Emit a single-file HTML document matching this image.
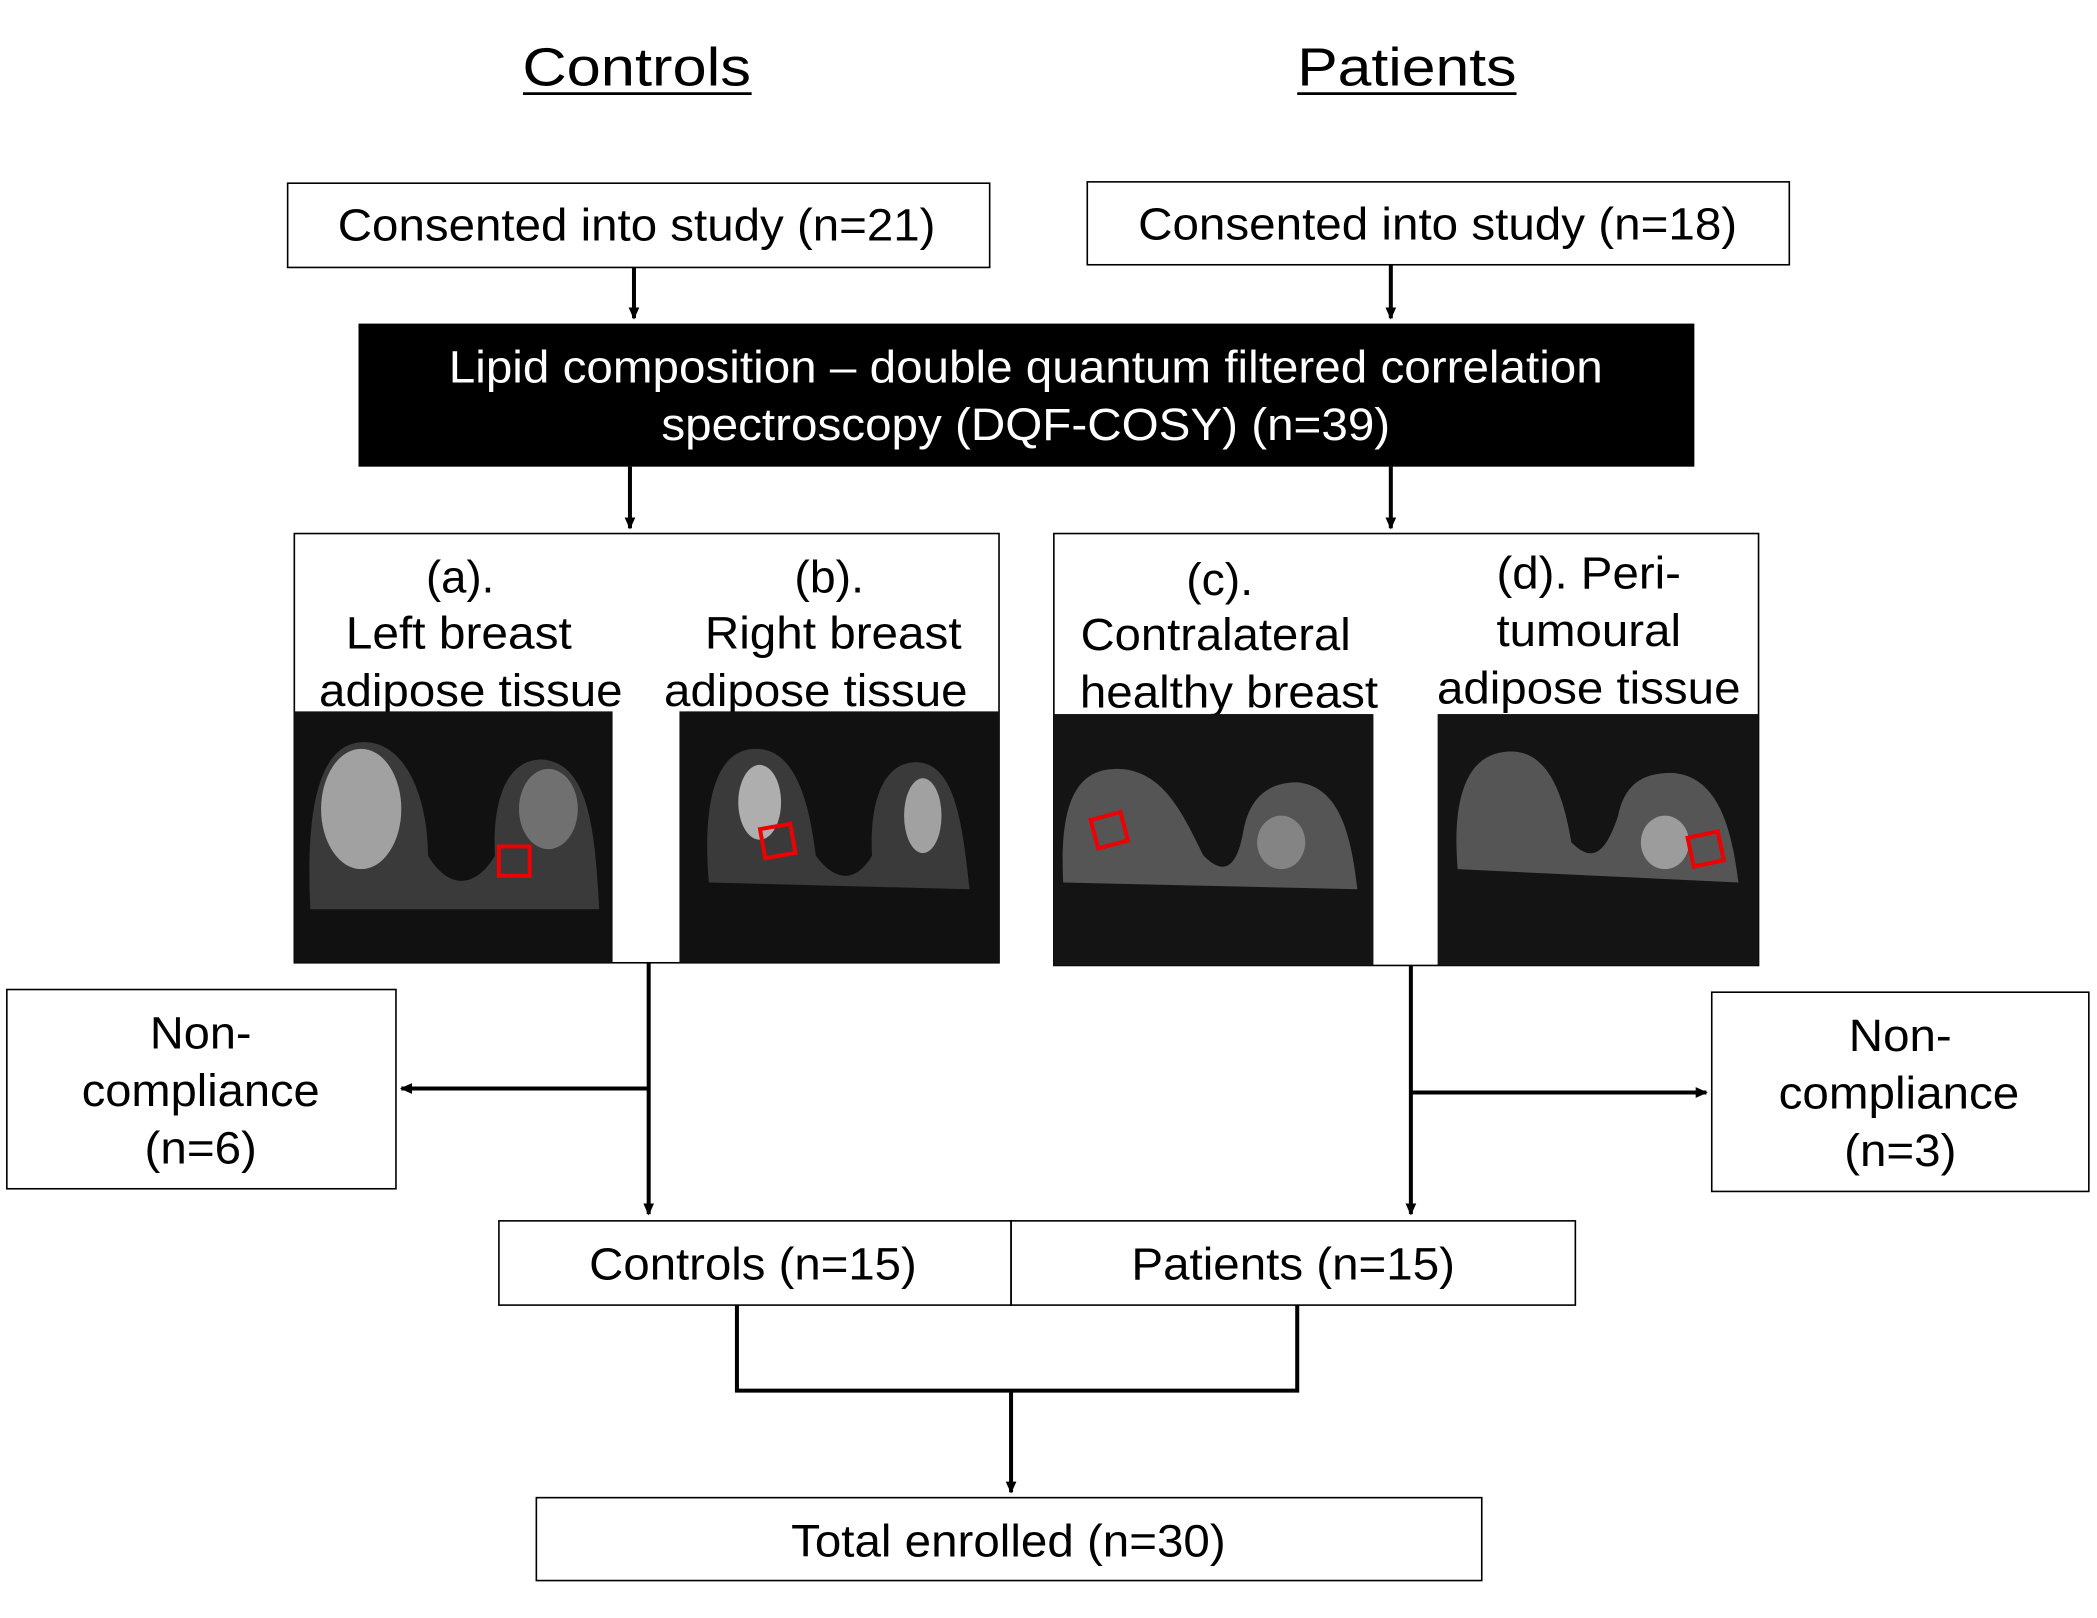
<!DOCTYPE html>
<html><head><meta charset="utf-8"><style>
html,body{margin:0;padding:0;background:#fff}
svg{display:block}
text{font-family:"Liberation Sans",Arial,sans-serif;fill:#000}
</style></head><body>
<svg width="2097" height="1618" viewBox="0 0 1568 1210" xmlns="http://www.w3.org/2000/svg">
<defs>
<marker id="ah" markerWidth="10" markerHeight="10" refX="8" refY="5" orient="auto" markerUnits="userSpaceOnUse">
<path d="M0,1 L9,5 L0,9 z" fill="#000"/></marker>
</defs>
<rect width="1568" height="1210" fill="#fff"/>
<text x="476" y="64" font-size="40" text-anchor="middle" textLength="171" lengthAdjust="spacingAndGlyphs">Controls</text>
<line x1="391" y1="70" x2="562" y2="70" stroke="#000" stroke-width="2"/>
<text x="1052" y="64" font-size="40" text-anchor="middle" textLength="164" lengthAdjust="spacingAndGlyphs">Patients</text>
<line x1="970" y1="70" x2="1134" y2="70" stroke="#000" stroke-width="2"/>

<g fill="none" stroke="#000" stroke-width="1.2">
<rect x="215" y="137" width="525" height="63"/>
<rect x="813" y="136" width="525" height="62"/>
<rect x="220" y="399" width="527" height="321"/>
<rect x="788" y="399" width="527" height="323"/>
<rect x="5" y="740" width="291" height="149"/>
<rect x="1280" y="742" width="282" height="149"/>
<rect x="373" y="913" width="383" height="63"/>
<rect x="756" y="913" width="422" height="63"/>
<rect x="401" y="1120" width="707" height="62"/>
</g>
<g font-size="34" text-anchor="middle" lengthAdjust="spacingAndGlyphs">
<text x="476" y="180" textLength="447" lengthAdjust="spacingAndGlyphs">Consented into study (n=21)</text>
<text x="1075" y="179" textLength="448" lengthAdjust="spacingAndGlyphs">Consented into study (n=18)</text>
</g>
<rect x="268" y="242" width="999" height="107" fill="#000"/>
<text x="767" y="286" font-size="34" text-anchor="middle" textLength="863" lengthAdjust="spacingAndGlyphs" style="fill:#fff">Lipid composition – double quantum filtered correlation</text>
<text x="767" y="329" font-size="34" text-anchor="middle" textLength="545" lengthAdjust="spacingAndGlyphs" style="fill:#fff">spectroscopy (DQF-COSY) (n=39)</text>

<g font-size="34" text-anchor="middle">
<text x="344" y="443" textLength="51" lengthAdjust="spacingAndGlyphs">(a).</text>
<text x="343" y="485" textLength="169" lengthAdjust="spacingAndGlyphs">Left breast</text>
<text x="352" y="528" textLength="227" lengthAdjust="spacingAndGlyphs">adipose tissue</text>
<text x="620" y="443" textLength="52" lengthAdjust="spacingAndGlyphs">(b).</text>
<text x="623" y="485" textLength="192" lengthAdjust="spacingAndGlyphs">Right breast</text>
<text x="610" y="528" textLength="227" lengthAdjust="spacingAndGlyphs">adipose tissue</text>
<text x="912" y="445" textLength="50" lengthAdjust="spacingAndGlyphs">(c).</text>
<text x="909" y="486" textLength="202" lengthAdjust="spacingAndGlyphs">Contralateral</text>
<text x="919" y="529" textLength="223" lengthAdjust="spacingAndGlyphs">healthy breast</text>
<text x="1188" y="440" textLength="138" lengthAdjust="spacingAndGlyphs">(d). Peri-</text>
<text x="1188" y="483" textLength="138" lengthAdjust="spacingAndGlyphs">tumoural</text>
<text x="1188" y="526" textLength="227" lengthAdjust="spacingAndGlyphs">adipose tissue</text>
<text x="150" y="784" textLength="76" lengthAdjust="spacingAndGlyphs">Non-</text>
<text x="150" y="827" textLength="178" lengthAdjust="spacingAndGlyphs">compliance</text>
<text x="150" y="870" textLength="84" lengthAdjust="spacingAndGlyphs">(n=6)</text>
<text x="1421" y="786" textLength="77" lengthAdjust="spacingAndGlyphs">Non-</text>
<text x="1420" y="829" textLength="180" lengthAdjust="spacingAndGlyphs">compliance</text>
<text x="1421" y="872" textLength="84" lengthAdjust="spacingAndGlyphs">(n=3)</text>
<text x="563" y="957" textLength="245" lengthAdjust="spacingAndGlyphs">Controls (n=15)</text>
<text x="967" y="957" textLength="242" lengthAdjust="spacingAndGlyphs">Patients (n=15)</text>
<text x="754" y="1164" textLength="325" lengthAdjust="spacingAndGlyphs">Total enrolled (n=30)</text>
</g>

<g>
<rect x="220" y="532" width="238" height="188" fill="#111"/>
<path d="M232,680 C228,600 240,555 272,555 C305,555 320,600 320,640 C335,665 355,665 370,640 C368,600 378,568 405,568 C440,570 445,620 448,680 Z" fill="#3a3a3a"/>
<ellipse cx="270" cy="605" rx="30" ry="45" fill="#bbb" opacity="0.8"/>
<ellipse cx="410" cy="605" rx="22" ry="30" fill="#888" opacity="0.7"/>
<rect x="373" y="633" width="23" height="22" fill="none" stroke="#e00" stroke-width="3"/>
<rect x="508" y="532" width="239" height="188" fill="#111"/>
<path d="M530,660 C525,600 535,560 565,560 C595,560 605,600 610,640 C625,660 640,660 652,640 C650,600 660,570 685,570 C715,570 720,620 725,665 Z" fill="#3a3a3a"/>
<ellipse cx="568" cy="600" rx="16" ry="28" fill="#ccc" opacity="0.8"/>
<ellipse cx="690" cy="610" rx="14" ry="28" fill="#bbb" opacity="0.8"/>
<rect x="570" y="618" width="23" height="22" fill="none" stroke="#e00" stroke-width="3" transform="rotate(-10 581 629)"/>
<rect x="788" y="534" width="239" height="188" fill="#141414"/>
<path d="M795,660 C792,600 805,575 835,575 C870,575 885,610 900,640 C915,655 925,650 930,620 C935,595 950,585 970,585 C1000,588 1010,620 1015,665 Z" fill="#555"/>
<ellipse cx="958" cy="630" rx="18" ry="20" fill="#999" opacity="0.7"/>
<rect x="818" y="610" width="23" height="22" fill="none" stroke="#e00" stroke-width="3" transform="rotate(-15 829 621)"/>
<rect x="1075" y="534" width="240" height="188" fill="#141414"/>
<path d="M1090,650 C1085,590 1100,562 1130,562 C1160,562 1170,600 1175,630 C1190,645 1200,640 1210,610 C1215,585 1230,578 1250,578 C1285,580 1295,620 1300,660 Z" fill="#555"/>
<ellipse cx="1245" cy="630" rx="18" ry="20" fill="#bbb" opacity="0.7"/>
<rect x="1264" y="624" width="23" height="22" fill="none" stroke="#e00" stroke-width="3" transform="rotate(-12 1275 635)"/>
</g>

<g stroke="#000" stroke-width="3" fill="none">
<line x1="474" y1="200" x2="474" y2="238" marker-end="url(#ah)"/>
<line x1="1040" y1="198" x2="1040" y2="238" marker-end="url(#ah)"/>
<line x1="471" y1="349" x2="471" y2="395" marker-end="url(#ah)"/>
<line x1="1040" y1="349" x2="1040" y2="395" marker-end="url(#ah)"/>
<line x1="485" y1="720" x2="485" y2="908" marker-end="url(#ah)"/>
<line x1="485" y1="814" x2="300" y2="814" marker-end="url(#ah)"/>
<line x1="1055" y1="722" x2="1055" y2="908" marker-end="url(#ah)"/>
<line x1="1055" y1="817" x2="1276" y2="817" marker-end="url(#ah)"/>
<polyline points="551,976 551,1040 970,1040 970,976"/>
<line x1="756" y1="1040" x2="756" y2="1116" marker-end="url(#ah)"/>
</g>
</svg>
</body></html>
